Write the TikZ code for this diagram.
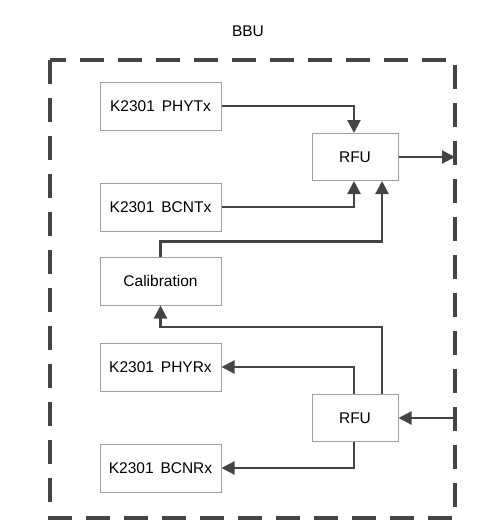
\documentclass[tikz,border=0pt]{standalone}
\usepackage{fontspec}
\setmainfont{Liberation Sans}
\usetikzlibrary{arrows.meta}
\definecolor{linegray}{HTML}{444444}
\definecolor{boxgray}{HTML}{A0A0A0}

\begin{document}
\begin{tikzpicture}[x=1pt,y=-1pt, every node/.style={align=center, font=\fontsize{15.5}{18}\selectfont},
  unit/.style={draw=boxgray, line width=1pt, minimum width=121pt, minimum height=48pt, inner sep=0pt},
  rfubox/.style={draw=boxgray, line width=1pt, minimum width=86pt, minimum height=47pt, inner sep=0pt},
  link/.style={draw=linegray, line width=2.2pt, -{Triangle[length=13pt,width=13pt]}}]
  \useasboundingbox (0,0) rectangle (494,527);
  \node (bbu) at (248,31) {BBU};
  \draw[linegray, line width=3.6pt, dash pattern=on 24pt off 14pt] (50,60) rectangle (455,518);
  % transmit side
  \node[unit] (phytx) at (160.5,106) {K2301\, PHYTx};
  \node[unit] (bcntx) at (160.5,207) {K2301\, BCNTx};
  \node[unit] (calib) at (160.5,281) {Calibration};
  \node[rfubox] (rfutx) at (355,157) {RFU};
  % receive side
  \node[unit] (phyrx) at (160.5,367) {K2301\, PHYRx};
  \node[unit] (bcnrx) at (160.5,468) {K2301\, BCNRx};
  \node[rfubox] (rfurx) at (355,418) {RFU};
  \coordinate (outR) at (455,157);
  \coordinate (inR) at (455,418);

  \draw[link] (phytx.east) -| ([xshift=-1pt]rfutx.north);
  \draw[link] (bcntx.east) -| ([xshift=-1pt]rfutx.south);
  \draw[link] (calib.north) -- ++(0,-15) -| ([xshift=27pt]rfutx.south);
  \draw[link] (rfutx.east) -- (outR);
  \draw[link] ([xshift=-1pt]rfurx.north) |- (phyrx.east);
  \draw[link] ([xshift=27pt]rfurx.north) -- ++(0,-67) -| (calib.south);
  \draw[link] ([xshift=-1pt]rfurx.south) |- (bcnrx.east);
  \draw[link] (inR) -- (rfurx.east);
\end{tikzpicture}
\end{document}
